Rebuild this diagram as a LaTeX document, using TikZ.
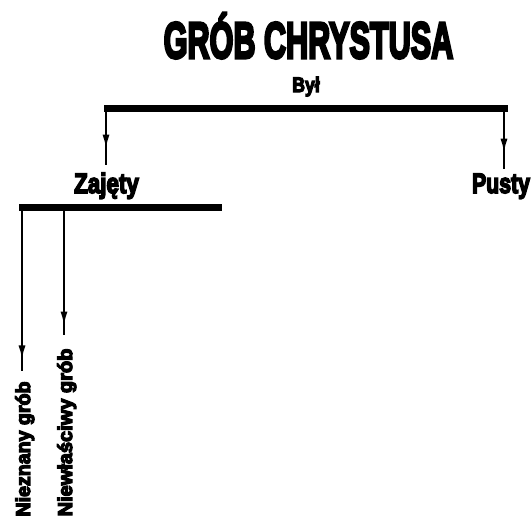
\documentclass[tikz,border=0pt]{standalone}
\usepackage{fontspec}
\setmainfont{Liberation Sans}
\newfontfamily\imp{Liberation Sans}[UprightFont=* Bold, UprightFeatures={FakeBold=6}]
\usetikzlibrary{arrows.meta,decorations.markings}
\begin{document}
\begin{tikzpicture}[x=1pt,y=-1pt,
  lbl/.style={inner sep=0pt, font=\imp},
  bar/.style={line width=7pt},
  conn/.style={line width=2pt, postaction={decorate},
    decoration={markings, mark=at position #1 with {\arrow{Latex[length=14pt,width=7pt]}}}}
]
\useasboundingbox (0,0) rectangle (531,520);
% labels
\node[lbl, anchor=base] (title) at (308.5,58) {\fontsize{51}{51}\selectfont\scalebox{0.6}[1]{GRÓB CHRYSTUSA}};
\node[lbl, anchor=base] (byl) at (306,92) {\fontsize{21}{21}\selectfont\scalebox{0.84}[1]{Był}};
\node[lbl, anchor=base, outer sep=8pt] (zaj) at (106.5,193) {\fontsize{28}{28}\selectfont\scalebox{0.8}[1]{Zajęty}};
\node[lbl, anchor=base, outer sep=5pt] (pus) at (501,193) {\fontsize{28}{28}\selectfont\scalebox{0.76}[1]{Pusty}};
\node[lbl, anchor=base, rotate=90, outer sep=10pt] (niez) at (30,449) {\fontsize{20}{20}\selectfont\scalebox{0.98}[1]{Nieznany grób}};
\node[lbl, anchor=base, rotate=90, outer sep=14pt] (niew) at (72,432.5) {\fontsize{20}{20}\selectfont\scalebox{1}[1]{Niewłaściwy grób}};
% bars
\coordinate (b1l) at (104,108.5);
\coordinate (b1r) at (507.5,108.5);
\coordinate (b2l) at (19,207.5);
\coordinate (b2r) at (222,207.5);
\draw[bar] (b1l) -- (b1r);
\draw[bar] (b2l) -- (b2r);
% drop points
\coordinate (d1) at (106,112);
\coordinate (d2) at (504,112);
\coordinate (d3) at (22,211);
\coordinate (d4) at (64,211);
\draw[conn=-16pt] (d1) -- (d1 |- zaj.north);
\draw[conn=-16pt] (d2) -- (d2 |- pus.north);
\draw[conn=-12pt] (d3) -- (d3 |- niez.east);
\draw[conn=-9pt] (d4) -- (d4 |- niew.east);
\end{tikzpicture}
\end{document}
